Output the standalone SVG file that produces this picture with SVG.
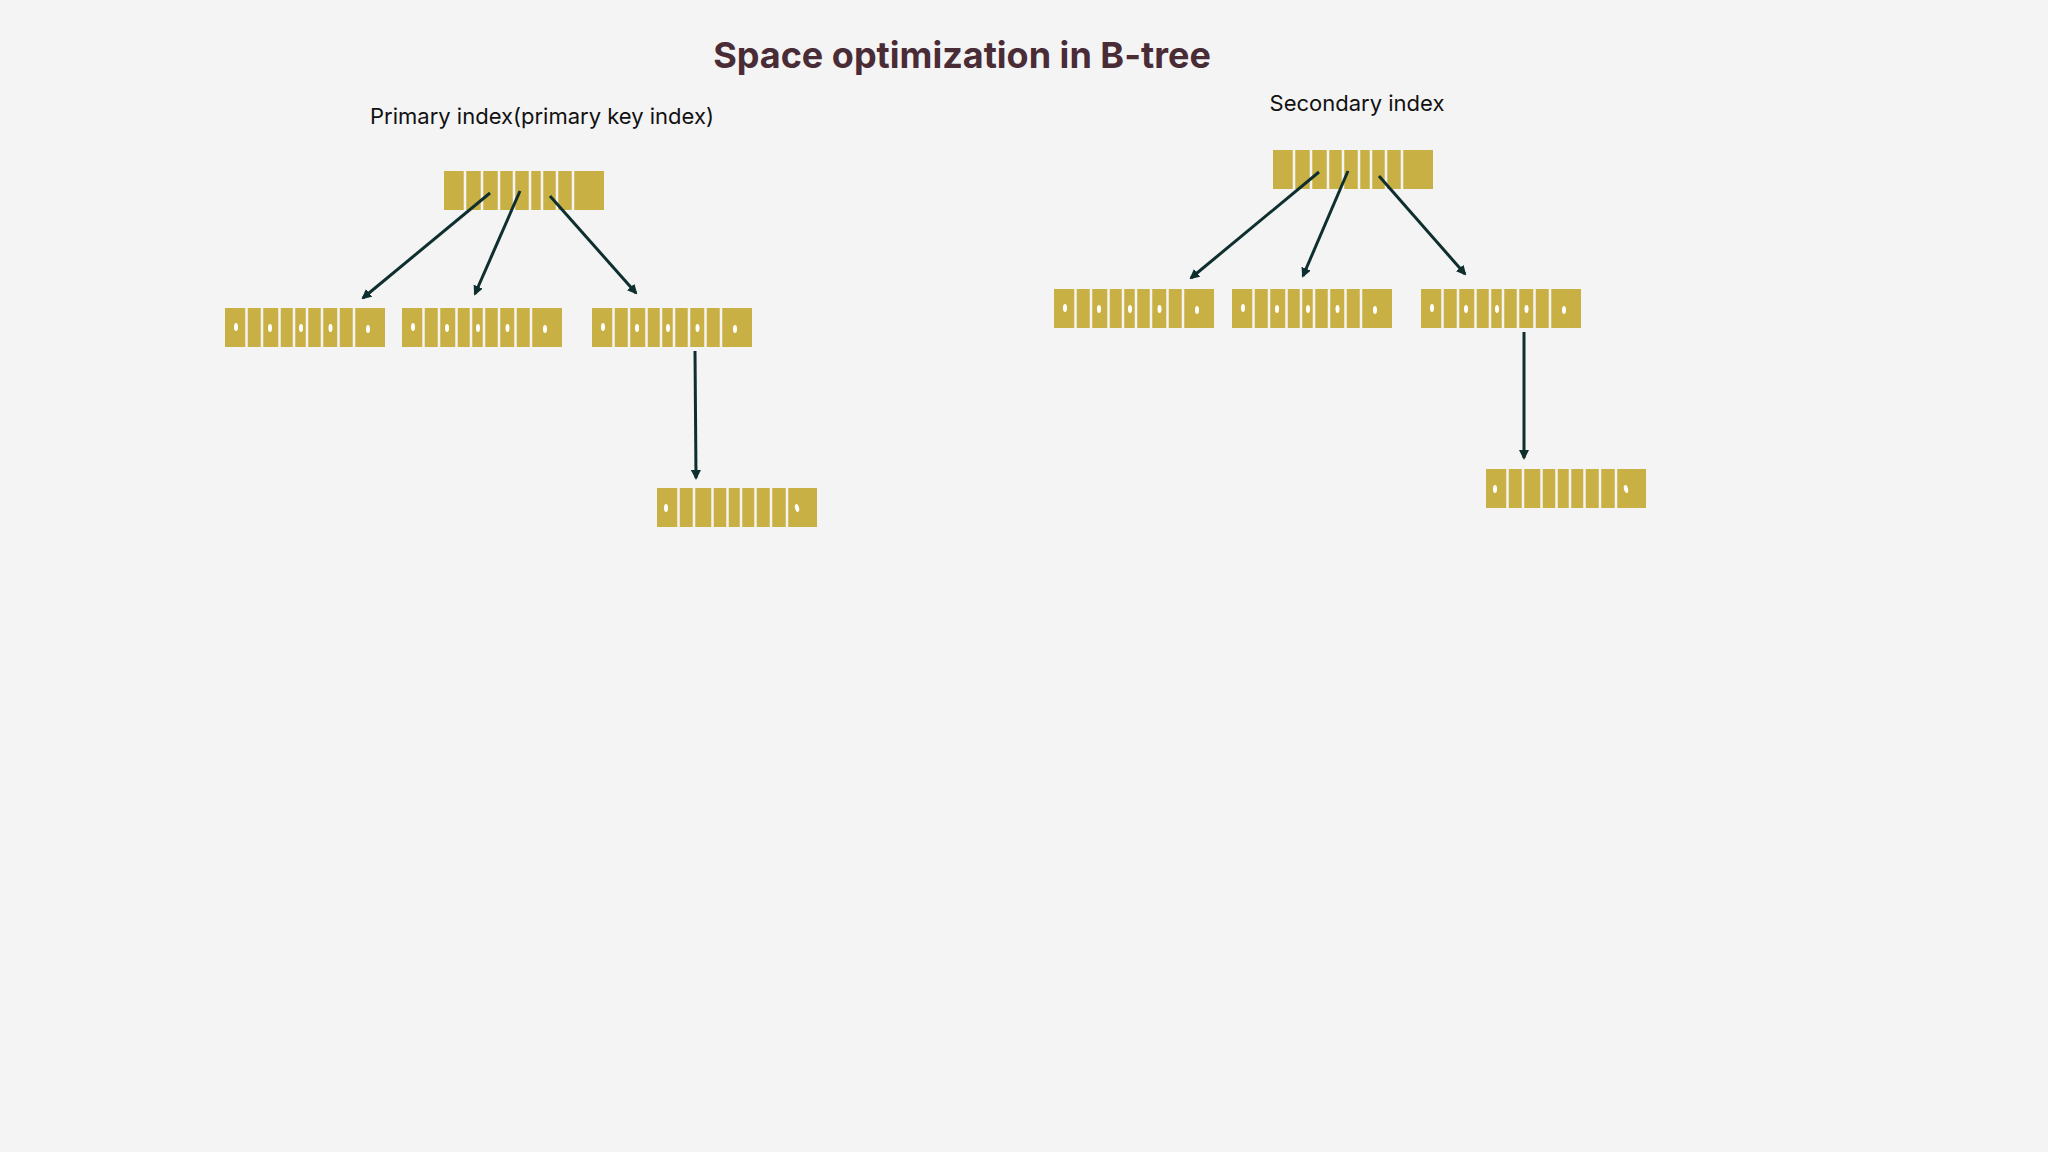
<svg xmlns="http://www.w3.org/2000/svg" xmlns:xlink="http://www.w3.org/1999/xlink" width="2048" height="1152" viewBox="0 0 2048 1152">
<style>
.cell{fill:#c9b045}
.div{stroke:#f4f4f4;stroke-width:2.5}
.dot{fill:#ffffff}
.conn{stroke:#0f2e2e;stroke-width:3;fill:none;marker-end:url(#ah)}
text{font-family:"Inter","Liberation Sans",sans-serif;text-anchor:middle}
.title{font-size:36px;font-weight:700;fill:#4a2c36}
.sub{font-size:22px;fill:#111}
</style>
<defs>
<marker id="ah" markerWidth="10" markerHeight="10" refX="8" refY="5" orient="auto" markerUnits="userSpaceOnUse" viewBox="0 0 10 10">
<path d="M0,0 L10,5 L0,10 z" fill="#0f2e2e"/>
</marker>
<g id="rootn">
<rect class="cell" x="0" y="0" width="160" height="39"/>
<g class="div"><line x1="21" y1="0" x2="21" y2="39"/><line x1="38" y1="0" x2="38" y2="39"/><line x1="55" y1="0" x2="55" y2="39"/><line x1="70" y1="0" x2="70" y2="39"/><line x1="86" y1="0" x2="86" y2="39"/><line x1="98" y1="0" x2="98" y2="39"/><line x1="113" y1="0" x2="113" y2="39"/><line x1="129" y1="0" x2="129" y2="39"/></g>
</g>
<g id="childn">
<rect class="cell" x="0" y="0" width="160" height="39"/>
<g class="div"><line x1="21.5" y1="0" x2="21.5" y2="39"/><line x1="37" y1="0" x2="37" y2="39"/><line x1="54.5" y1="0" x2="54.5" y2="39"/><line x1="69" y1="0" x2="69" y2="39"/><line x1="82" y1="0" x2="82" y2="39"/><line x1="97" y1="0" x2="97" y2="39"/><line x1="113.5" y1="0" x2="113.5" y2="39"/><line x1="129" y1="0" x2="129" y2="39"/></g>
<g class="dot"><ellipse cx="11" cy="19" rx="2" ry="4"/><ellipse cx="45" cy="20" rx="2" ry="4"/><ellipse cx="76" cy="20" rx="2" ry="4"/><ellipse cx="105.5" cy="20" rx="2" ry="4"/><ellipse cx="143" cy="21" rx="2" ry="4"/></g>
</g>
<g id="leafn">
<rect class="cell" x="0" y="0" width="160" height="39"/>
<g class="div"><line x1="21.5" y1="0" x2="21.5" y2="39"/><line x1="37" y1="0" x2="37" y2="39"/><line x1="55.5" y1="0" x2="55.5" y2="39"/><line x1="70.5" y1="0" x2="70.5" y2="39"/><line x1="84" y1="0" x2="84" y2="39"/><line x1="98.5" y1="0" x2="98.5" y2="39"/><line x1="114" y1="0" x2="114" y2="39"/><line x1="130" y1="0" x2="130" y2="39"/></g>
<g class="dot"><ellipse cx="9" cy="20" rx="2" ry="4"/><ellipse cx="140" cy="20" rx="2" ry="4" transform="rotate(-15 140 20)"/></g>
</g>
</defs>
<rect width="2048" height="1152" fill="#f4f4f4"/>
<text class="title" x="962" y="68">Space optimization in B-tree</text>
<text class="sub" x="542" y="124">Primary index(primary key index)</text>
<text class="sub" x="1357" y="111">Secondary index</text>
<g id="p-root"><use xlink:href="#rootn" x="444" y="171"/></g>
<g id="p-c1"><use xlink:href="#childn" x="225" y="308"/></g>
<g id="p-c2"><use xlink:href="#childn" x="402" y="308"/></g>
<g id="p-c3"><use xlink:href="#childn" x="592" y="308"/></g>
<g id="p-leaf"><use xlink:href="#leafn" x="657" y="488"/></g>
<g id="s-root"><use xlink:href="#rootn" x="1273" y="150"/></g>
<g id="s-c1"><use xlink:href="#childn" x="1054" y="289"/></g>
<g id="s-c2"><use xlink:href="#childn" x="1232" y="289"/></g>
<g id="s-c3"><use xlink:href="#childn" x="1421" y="289"/></g>
<g id="s-leaf"><use xlink:href="#leafn" x="1486" y="469"/></g>
<g id="connectors">
<line class="conn" x1="490" y1="193" x2="363" y2="298"/>
<line class="conn" x1="520" y1="191" x2="475" y2="294"/>
<line class="conn" x1="550" y1="196" x2="636" y2="293"/>
<line class="conn" x1="695" y1="351" x2="696" y2="478"/>
<line class="conn" x1="1319" y1="172" x2="1191" y2="278"/>
<line class="conn" x1="1348" y1="171" x2="1303" y2="276"/>
<line class="conn" x1="1379" y1="176" x2="1465" y2="274"/>
<line class="conn" x1="1524" y1="332" x2="1524" y2="458"/>
</g>
</svg>
